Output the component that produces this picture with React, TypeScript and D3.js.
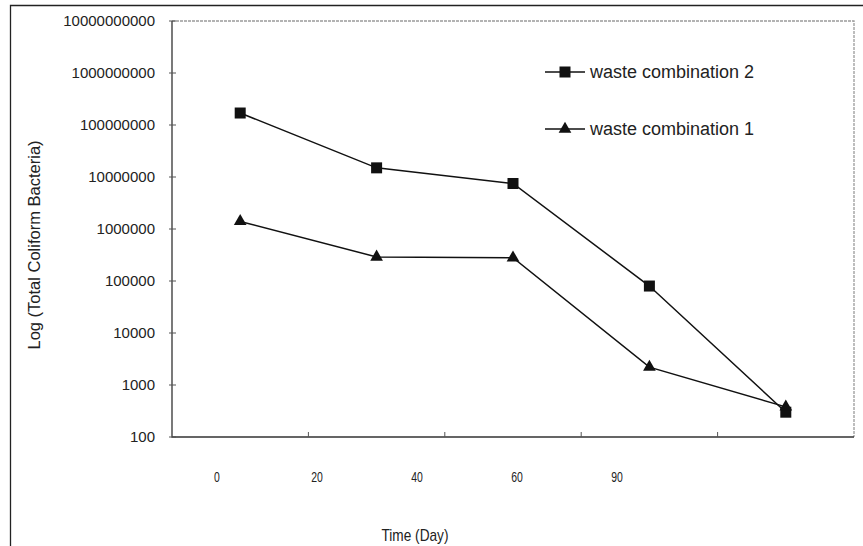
import React, { useEffect, useRef } from 'react';
import * as d3 from 'd3';

const days = ['0', '20', '40', '60', '90'];
const wasteCombination2 = [170000000, 15000000, 7500000, 80000, 300];
const wasteCombination1 = [1400000, 290000, 280000, 2200, 380];
const yTicks = [100, 1000, 10000, 100000, 1000000, 10000000, 100000000, 1000000000, 10000000000];

const series = [
  { name: 'waste combination 2', values: wasteCombination2, marker: 'square' },
  { name: 'waste combination 1', values: wasteCombination1, marker: 'triangle' },
];

const WIDTH = 863;
const HEIGHT = 546;

export default function App() {
  const svgRef = useRef<SVGSVGElement>(null);

  useEffect(() => {
    if (!svgRef.current) return;
    const svg = d3.select(svgRef.current);
    svg.selectAll('*').remove();

    const plot = { left: 172, right: 854, top: 21, bottom: 437 };
    const font = "'Liberation Sans', Arial, sans-serif";

    // outer frame (only left/top visible in the scan)
    svg.append('path')
      .attr('d', `M10.5,${HEIGHT + 2} V5.5 H${WIDTH + 2}`)
      .attr('fill', 'none')
      .attr('stroke', '#222')
      .attr('stroke-width', 1.3);

    const x = d3.scaleBand<string>().domain(days).range([plot.left, plot.right]);
    // tick labels sit offset from the points in the original
    const xLabel = d3.scalePoint<string>().domain(days).range([217, 617]);
    const y = d3.scaleLog().domain([100, 1e10]).range([plot.bottom, plot.top]);

    // plot border: top/right grey, left/bottom dark
    svg.append('path')
      .attr('d', `M${plot.left},${plot.top} H${plot.right} V${plot.bottom}`)
      .attr('fill', 'none')
      .attr('stroke', '#9a9a9a')
      .attr('stroke-width', 1.3)
      .attr('stroke-dasharray', '3,1');
    svg.append('path')
      .attr('d', `M${plot.left},${plot.top} V${plot.bottom} H${plot.right}`)
      .attr('fill', 'none')
      .attr('stroke', '#333')
      .attr('stroke-width', 1.3);

    const yg = svg.append('g');
    yTicks.forEach((t) => {
      yg.append('line')
        .attr('x1', plot.left - 3)
        .attr('x2', plot.left + 4)
        .attr('y1', y(t))
        .attr('y2', y(t))
        .attr('stroke', '#555');
      yg.append('text')
        .attr('x', 155)
        .attr('y', y(t))
        .attr('dy', '0.35em')
        .attr('text-anchor', 'end')
        .attr('font-family', font)
        .attr('font-size', 15)
        .attr('fill', '#222')
        .text(String(t));
    });

    days.slice(1).forEach((d) => {
      svg.append('line')
        .attr('x1', x(d)!)
        .attr('x2', x(d)!)
        .attr('y1', plot.bottom)
        .attr('y2', plot.bottom - 5)
        .attr('stroke', '#555');
    });

    days.forEach((d) => {
      svg.append('text')
        .attr('x', xLabel(d)!)
        .attr('y', 477)
        .attr('dy', '0.35em')
        .attr('text-anchor', 'middle')
        .attr('font-family', font)
        .attr('font-size', 15)
        .attr('textLength', d.length * 5.8)
        .attr('lengthAdjust', 'spacingAndGlyphs')
        .attr('fill', '#222')
        .text(d);
    });

    svg.append('text')
      .attr('x', 415)
      .attr('y', 535)
      .attr('dy', '0.35em')
      .attr('text-anchor', 'middle')
      .attr('font-family', font)
      .attr('font-size', 17)
      .attr('textLength', 67)
      .attr('lengthAdjust', 'spacingAndGlyphs')
      .attr('fill', '#222')
      .text('Time (Day)');

    svg.append('text')
      .attr('transform', 'translate(34,245) rotate(-90)')
      .attr('dy', '0.35em')
      .attr('text-anchor', 'middle')
      .attr('font-family', font)
      .attr('font-size', 16.5)
      .attr('fill', '#222')
      .text('Log (Total Coliform Bacteria)');

    const cx = (d: string) => x(d)! + x.bandwidth() / 2;
    const line = d3.line<number>()
      .x((_, i) => cx(days[i]))
      .y((v) => y(v));

    const drawMarker = (g: d3.Selection<SVGGElement, unknown, null, undefined>, kind: string, px: number, py: number) => {
      if (kind === 'square') {
        g.append('rect')
          .attr('x', px - 5.5)
          .attr('y', py - 5.5)
          .attr('width', 11)
          .attr('height', 11)
          .attr('fill', '#111');
      } else {
        g.append('path')
          .attr('d', d3.symbol(d3.symbolTriangle, 70)())
          .attr('transform', `translate(${px},${py})`)
          .attr('fill', '#111');
      }
    };

    series.forEach((s) => {
      const g = svg.append('g');
      g.append('path')
        .datum(s.values)
        .attr('d', line)
        .attr('fill', 'none')
        .attr('stroke', '#111')
        .attr('stroke-width', 1.5);
      s.values.forEach((v, i) => drawMarker(g, s.marker, cx(days[i]), y(v)));
    });

    const legendY = [72, 129];
    series.forEach((s, i) => {
      const g = svg.append('g');
      g.append('line')
        .attr('x1', 545)
        .attr('x2', 585)
        .attr('y1', legendY[i])
        .attr('y2', legendY[i])
        .attr('stroke', '#111')
        .attr('stroke-width', 1.5);
      drawMarker(g, s.marker, 565, legendY[i]);
      g.append('text')
        .attr('x', 590)
        .attr('y', legendY[i])
        .attr('dy', '0.35em')
        .attr('font-family', font)
        .attr('font-size', 18)
        .attr('fill', '#222')
        .text(s.name);
    });
  }, []);

  return (
    <svg
      ref={svgRef}
      width={WIDTH}
      height={HEIGHT}
      style={{ position: 'absolute', left: 0, top: 0, background: '#fff' }}
    />
  );
}
